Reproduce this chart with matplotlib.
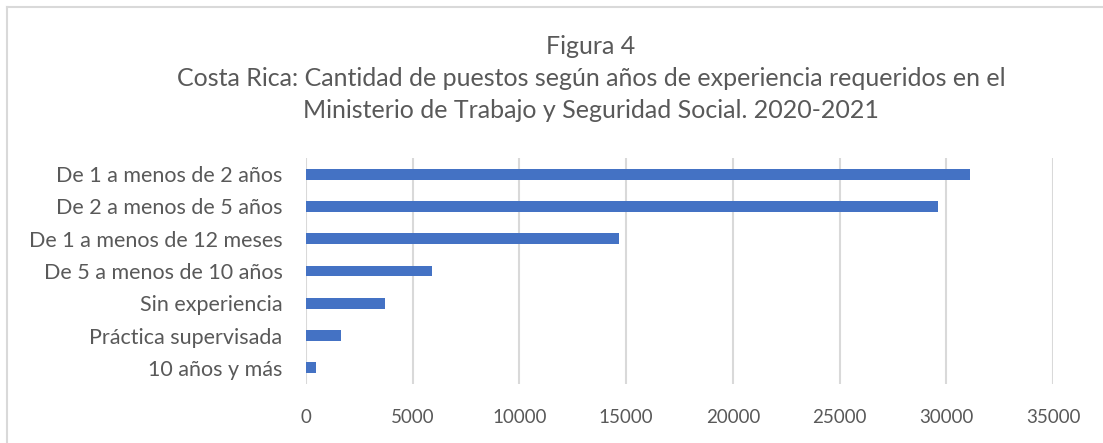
import matplotlib
matplotlib.use("Agg")
import matplotlib.pyplot as plt
from matplotlib.lines import Line2D

categories = [
    "De 1 a menos de 2 años",
    "De 2 a menos de 5 años",
    "De 1 a menos de 12 meses",
    "De 5 a menos de 10 años",
    "Sin experiencia",
    "Práctica supervisada",
    "10 años y más",
]
values = [31130, 29610, 14660, 5920, 3700, 1660, 450]
xticks = [0, 5000, 10000, 15000, 20000, 25000, 30000, 35000]

plt.rcParams['font.family'] = ['Lato', 'DejaVu Sans']

W, H = 1103, 443
fig = plt.figure(figsize=(W / 100, H / 100), dpi=100)
ax = fig.add_axes([306 / W, 1 - 384 / H, (1053 - 306) / W, (384 - 158) / H])

pos = list(range(len(categories)))
ax.barh(pos, values, height=0.34, color="#4472C4", zorder=3)
ax.set_yticks(pos)
ax.set_yticklabels(categories)
ax.set_ylim(len(categories) - 0.5, -0.5)
ax.set_xlim(0, 35000)
ax.set_xticks(xticks)
ax.set_xticklabels([str(t) for t in xticks])
ax.grid(axis="x", color="#D9D9D9", linewidth=1.5, zorder=0)
for s in ax.spines.values():
    s.set_visible(False)
ax.tick_params(axis="both", length=0, colors="#595959")
ax.tick_params(axis="x", labelsize=13.5, pad=18)
ax.tick_params(axis="y", labelsize=15.5, pad=17)

title_color = "#595959"
fig.text(591 / W, 1 - 46 / H, "Figura 4", ha="center", va="center",
         fontsize=18, color=title_color)
fig.text(591 / W, 1 - 79 / H,
         "Costa Rica: Cantidad de puestos según años de experiencia requeridos en el",
         ha="center", va="center", fontsize=18, color=title_color)
fig.text(591 / W, 1 - 111 / H,
         "Ministerio de Trabajo y Seguridad Social. 2020-2021",
         ha="center", va="center", fontsize=18, color=title_color)

# chart frame (only left and top edges visible)
fig.add_artist(Line2D([7 / W, 7 / W], [0, 1 - 7 / H], transform=fig.transFigure,
                      color="#D9D9D9", linewidth=1.5))
fig.add_artist(Line2D([7 / W, 1], [1 - 7 / H, 1 - 7 / H], transform=fig.transFigure,
                      color="#D9D9D9", linewidth=1.5))

fig.savefig("out.png", dpi=100)
